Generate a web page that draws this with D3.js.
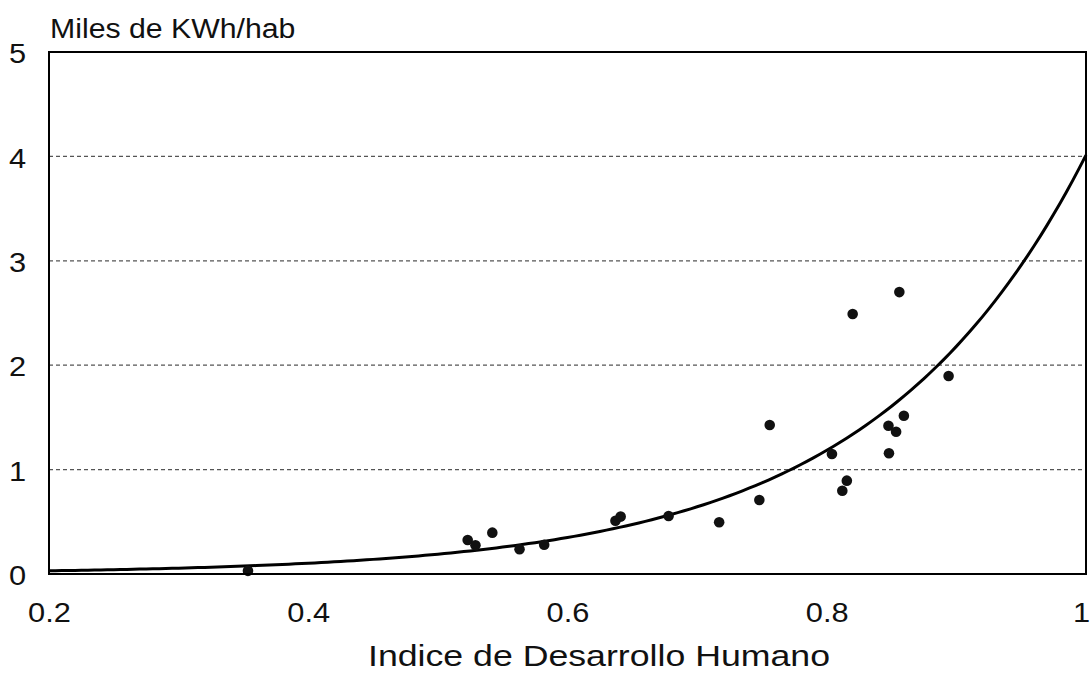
<!DOCTYPE html>
<html>
<head>
<meta charset="utf-8">
<script src="https://cdn.jsdelivr.net/npm/d3@7"></script>
<style>
  html, body { margin: 0; padding: 0; background: #fff; }
  svg { display: block; }
  text { font-family: "Liberation Sans", Arial, Helvetica, sans-serif; fill: #111; }
</style>
</head>
<body>
<svg id="chart" width="1092" height="676"></svg>
<script>
// Índice de Desarrollo Humano (x) y consumo eléctrico en miles de KWh por habitante (y)
const idh = [0.3535, 0.523, 0.529, 0.542, 0.563, 0.582, 0.637, 0.641, 0.678, 0.717, 0.748,
             0.756, 0.804, 0.812, 0.8155, 0.820, 0.8476, 0.848, 0.8535, 0.856, 0.8595, 0.894];
const kwh = [0.03, 0.326, 0.275, 0.396, 0.237, 0.28, 0.51, 0.55, 0.556, 0.495, 0.709,
             1.427, 1.149, 0.798, 0.894, 2.49, 1.42, 1.156, 1.363, 2.70, 1.516, 1.897];

// Ajuste exponencial y = A·e^(B·x)
const trendA = 0.009;
const trendB = 6.1;

const xTicks = [0.2, 0.4, 0.6, 0.8, 1];
const xTickLabels = ["0.2", "0.4", "0.6", "0.8", "1"];
const yTicks = [0, 1, 2, 3, 4, 5];
const yTickLabels = ["0", "1", "2", "3", "4", "5"];
const gridValues = [1, 2, 3, 4];

const yTitle = "Miles de KWh/hab";
const xTitle = "Indice de Desarrollo Humano";

const svg = d3.select("#chart");
const plot = { left: 49, right: 1086, top: 52, bottom: 574 };
const stretch = 1.1; // letra algo más ancha que la Arial estándar

const x = d3.scaleLinear().domain([0.2, 1]).range([plot.left, plot.right]);
const y = d3.scaleLinear().domain([0, 5]).range([plot.bottom, plot.top]);

function widen(sel, factor) {
  sel.each(function () {
    const w = this.getComputedTextLength();
    d3.select(this)
      .attr("textLength", w * factor)
      .attr("lengthAdjust", "spacingAndGlyphs");
  });
}

svg.append("rect").attr("width", 1092).attr("height", 676).attr("fill", "#fff");

// Líneas de cuadrícula discontinuas
svg.append("g")
  .selectAll("line")
  .data(gridValues)
  .join("line")
  .attr("x1", plot.left).attr("x2", plot.right)
  .attr("y1", d => y(d)).attr("y2", d => y(d))
  .attr("stroke", "#555")
  .attr("stroke-width", 1.2)
  .attr("stroke-dasharray", "4,3");

// Ejes
const xAxis = d3.axisBottom(x)
  .tickValues(xTicks)
  .tickSize(0)
  .tickFormat((d, i) => xTickLabels[i]);
const gx = svg.append("g").attr("transform", `translate(0,${plot.bottom})`).call(xAxis);
gx.select(".domain").remove();
gx.selectAll("text")
  .attr("y", 48).attr("dy", 0)
  .attr("x", d => (d === 1 ? -5 : 0))
  .style("font-size", "28px")
  .style("font-family", "'Liberation Sans', Arial, sans-serif")
  .attr("fill", "#111")
  .call(widen, stretch);

const yAxis = d3.axisLeft(y)
  .tickValues(yTicks)
  .tickSize(0)
  .tickFormat((d, i) => yTickLabels[i]);
const gy = svg.append("g").attr("transform", `translate(${plot.left},0)`).call(yAxis);
gy.select(".domain").remove();
gy.selectAll("text")
  .attr("x", -23).attr("dy", "0.38em")
  .style("font-size", "28px")
  .style("font-family", "'Liberation Sans', Arial, sans-serif")
  .attr("fill", "#111")
  .call(widen, stretch);

// Curva de tendencia
const curveX = d3.range(0.2, 1.0001, 0.005);
const line = d3.line()
  .x(d => x(d))
  .y(d => y(trendA * Math.exp(trendB * d)))
  .curve(d3.curveLinear);
svg.append("path")
  .datum(curveX)
  .attr("d", line)
  .attr("fill", "none")
  .attr("stroke", "#000")
  .attr("stroke-width", 3);

// Países
svg.append("g")
  .selectAll("circle")
  .data(idh.map((v, i) => [v, kwh[i]]))
  .join("circle")
  .attr("cx", d => x(d[0]))
  .attr("cy", d => y(d[1]))
  .attr("r", 5.3)
  .attr("fill", "#111");

// Marco del área de trazado
svg.append("rect")
  .attr("x", plot.left).attr("y", plot.top)
  .attr("width", plot.right - plot.left)
  .attr("height", plot.bottom - plot.top)
  .attr("fill", "none")
  .attr("stroke", "#000")
  .attr("stroke-width", 2);

// Títulos
svg.append("text")
  .attr("x", 50).attr("y", 38)
  .style("font-size", "27px")
  .text(yTitle)
  .call(widen, 1.12);

svg.append("text")
  .attr("x", 599).attr("y", 666)
  .attr("text-anchor", "middle")
  .style("font-size", "29px")
  .text(xTitle)
  .call(widen, 1.23);
</script>
</body>
</html>
